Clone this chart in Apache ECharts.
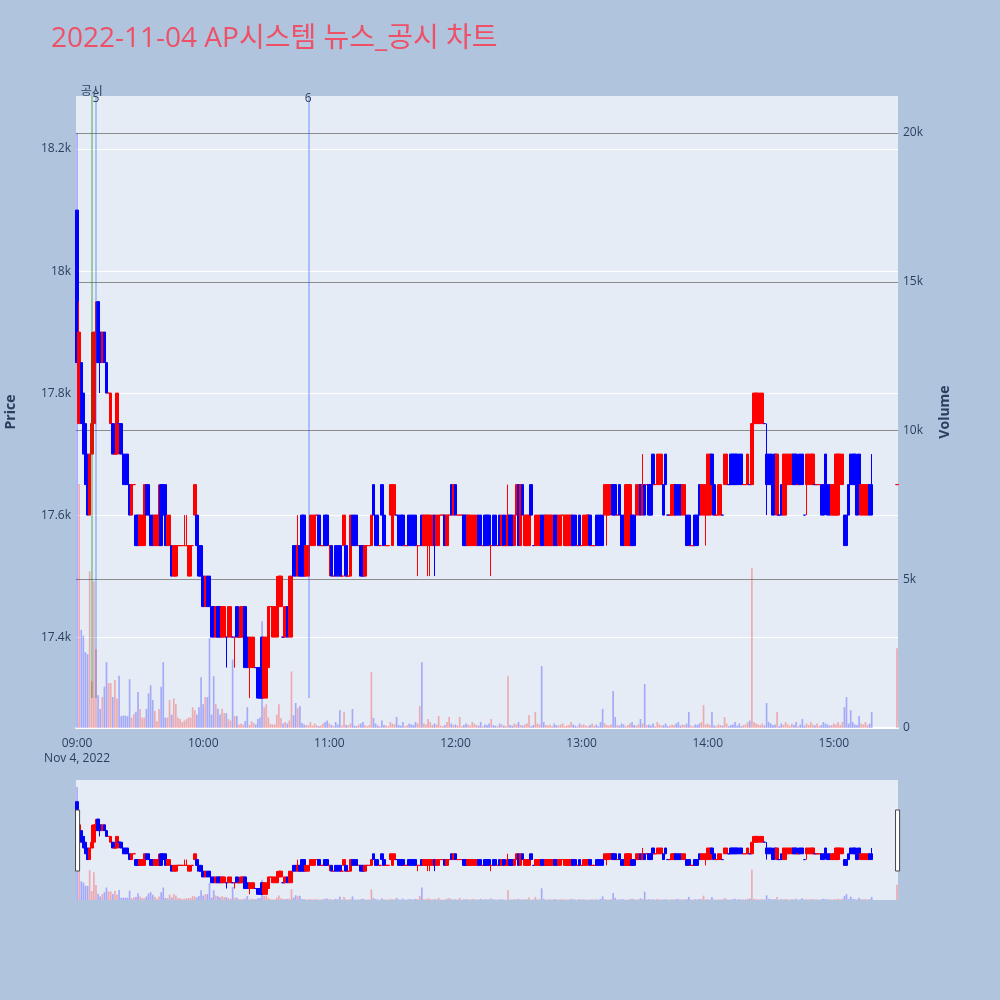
<!DOCTYPE html>
<html><head><meta charset="utf-8">
<script src="https://cdn.jsdelivr.net/npm/echarts@6/dist/echarts.min.js"></script>
<style>html,body{margin:0;padding:0;background:#b0c4de;}#c{width:1000px;height:1000px;}</style>
</head><body><div id="c"></div>
<script>
const chartTitle = '2022-11-04 AP시스템 뉴스_공시 차트';
const dateLabel = 'Nov 4, 2022';
// [open, close, low, high] per minute (low/high omitted when no wick); null = no trade
const h09 = [
[18100,17850],[17750,17900,17750,17950],[17850,17750],[17800,17700],[17750,17650],[17700,17600],[17600,17700],[17700,17750,17700,17900],[17750,17900],[17850,17900,17850,17950],
[17950,17850],[17900,17850,17800,17900],[17850,17900],[17900,17850],[17850,17800],[17800,17800],[17750,17800],[17750,17700],[17700,17700],[17700,17800],
[17750,17750],[17750,17700],[17700,17650],[17700,17650],[17700,17650],[17650,17600],[17600,17650],[17650,17650],[17600,17550],[17600,17550],
[17550,17600],[17550,17600],[17550,17650],[17650,17600],[17650,17600],[17600,17550],[17600,17550],[17550,17600],[17550,17600],[17550,17600,17550,17650],
[17650,17550],[17650,17600],[17650,17550],[17550,17600],[17550,17600],[17550,17500],[17500,17550],[17500,17550],[17550,17550],[17550,17550],
[17550,17550],[17550,17550,17550,17600],[17550,17550,17550,17600],[17500,17550],[17500,17550],[17550,17550],[17600,17650],[17600,17550],[17550,17500],[17550,17500]];
const h10 = [
[17500,17450],[17450,17500],[17500,17450],[17500,17450],[17450,17400],[17450,17400],[17400,17450],[17450,17400],[17450,17400],[17400,17450],
[17400,17450],[17400,17400,17350,17400],[17400,17450],[17400,17450],[17400,17400],[17400,17400,17350,17400],[17450,17400],[17400,17400],[17400,17450],[17400,17450],
[17450,17350],[17400,17350],[17350,17400,17300,17400],[17350,17400],[17350,17400],[17350,17350],[17350,17300],[17350,17300],[17400,17300],[17300,17400],
[17300,17400],[17350,17450],[17450,17450],[17400,17450],[17400,17450],[17400,17450,17400,17500],[17450,17500],[17450,17500],[17400,17400],[17400,17450],
[17450,17400],[17400,17500],[17400,17500],[17550,17500],[17550,17500],[17500,17550,17500,17600],[17550,17500],[17600,17500],[17600,17500],[17500,17550],
[17500,17550],[17550,17600],[17550,17600],[17550,17600],[17600,17600],[17600,17550],[17550,17550],[17550,17550],[17600,17550],[17600,17550]];
const h11 = [
[17550,17550,17500,17550],[17550,17500],[17500,17500],[17550,17500],[17550,17500],[17550,17500],[17500,17500],[17550,17600],[17550,17500],[17500,17500],
[17500,17600],[17600,17550],[17600,17550],[17600,17550],[17550,17550],[17550,17500],[17550,17500],[17500,17550],[17550,17550],[17550,17550],
[17550,17600],[17650,17600],[17600,17550],[17600,17550],[17550,17550],[17650,17600],[17600,17550],[17550,17550],[17550,17550],[17600,17650],
[17550,17650],[17600,17650],[17600,17600],[17600,17550],[17600,17550],[17600,17550],[17550,17550],[17550,17550],[17600,17550],[17600,17550],
[17600,17550],[17600,17550],[17550,17550,17500,17550],[17550,17550],[17600,17550],[17550,17600],[17550,17600],[17550,17600,17500,17600],[17550,17600,17500,17600],[17550,17600],
[17600,17550,17500,17600],[17550,17600],[17550,17600],[17600,17600],[17600,17600],[17600,17550],[17550,17600],[17600,17600],[17650,17600],[17600,17650]];
const h12 = [
[17650,17600],[17600,17600],[17600,17600],[17600,17600],[17600,17550],[17600,17550],[17550,17600],[17550,17600],[17550,17600],[17550,17600],
[17550,17600],[17600,17550],[17600,17550],[17550,17550],[17600,17550],[17600,17550],[17600,17550],[17550,17550,17500,17550],[17600,17550],[17600,17550],
[17550,17550],[17600,17550],[17550,17600],[17600,17550],[17550,17550],[17550,17600,17550,17650],[17600,17550],[17600,17550],[17550,17600],[17600,17650],
[17650,17550],[17550,17650],[17650,17600],[17550,17600],[17550,17600],[17550,17600],[17650,17600],[17550,17550],[17550,17600],[17550,17600],
[17550,17600],[17600,17550],[17600,17550],[17550,17600],[17550,17600],[17550,17600],[17550,17600],[17600,17550],[17600,17550],[17550,17600],
[17550,17600],[17600,17600],[17550,17600],[17550,17600],[17550,17600],[17550,17600],[17600,17550],[17600,17550],[17550,17550],[17600,17550]];
const h13 = [
[17550,17550],[17550,17600],[17550,17600],[17600,17600],[17600,17550],[17550,17550],[17550,17550],[17600,17550],[17600,17550],[17600,17550],
[17600,17550],[17600,17650],[17600,17650,17550,17650],[17600,17650],[17650,17650],[17650,17600],[17650,17600],[17600,17600],[17650,17600],[17600,17550],
[17600,17550],[17550,17650],[17550,17650],[17550,17650],[17600,17550],[17600,17550],[17600,17650],[17600,17650],[17650,17600],[17600,17650,17600,17700],
[17650,17600],[17650,17650],[17650,17600],[17650,17600],[17700,17650],[17650,17650],[17650,17700],[17650,17700],[17650,17700],[17650,17600],
[17700,17650],[17600,17600],[17600,17600],[17600,17650],[17600,17650],[17650,17600],[17650,17600],[17650,17600],[17600,17650],[17600,17650],
[17600,17550],[17600,17550],[17550,17550],[17550,17550],[17600,17550],[17600,17550],[17650,17600],[17600,17650],[17600,17650],[17600,17650,17550,17650]];
const h14 = [
[17600,17700],[17600,17700],[17700,17650],[17650,17600],[17600,17600],[17600,17650],[17600,17650],[17600,17600],[17650,17700],[17650,17700],
[17650,17650],[17700,17650],[17700,17650],[17700,17650],[17700,17650],[17700,17650],[17700,17650],[17650,17650],[17650,17650],[17650,17700],
[17650,17650],[17650,17750],[17750,17800],[17750,17800],[17750,17800],[17750,17800],[17750,17800],[17750,17750],[17700,17650,17600,17750],[17700,17650],
[17700,17650],[17650,17600],[17700,17650],[17600,17700],[17600,17600],[17650,17600],[17600,17700],[17600,17700],[17650,17700],[17650,17700],
[17650,17700],[17700,17650],[17700,17650],[17650,17650],[17700,17650],[17700,17650],[17600,17600],[17650,17700,17600,17700],[17650,17700],[17650,17700],
[17650,17700],[17650,17650],[17650,17650],[17650,17650],[17650,17600],[17650,17600],[17700,17650,17600,17700],[17650,17600],[17650,17600],[17600,17650]];
const h15 = [
[17600,17650],[17600,17700],[17600,17700],[17650,17700],[17650,17700],[17600,17550],[17600,17550],[17650,17600],[17700,17650],[17700,17650],
[17700,17650],[17650,17600],[17700,17650],[17600,17650],[17600,17650],[17600,17650],[17600,17650],[17650,17600],[17650,17600,17600,17700],null,
null,null,null,null,null,null,null,null,null,null,
[17650,17650]];
// volume per minute
const v09 = [20000,8200,3300,3100,2550,2480,5270,1570,4930,2650,
1100,640,1040,1390,2210,1510,1510,1040,1610,990,
1760,400,420,410,400,1640,350,470,550,1210,
640,350,350,640,1160,1440,940,570,230,640,
1390,2210,350,350,940,450,990,800,350,300,
200,250,300,350,350,700,600,450,700,1710];
const v10 = [800,1040,1040,3020,450,1740,800,650,450,650,
500,500,300,250,2300,400,400,120,150,120,
230,700,100,230,170,120,300,350,3590,700,
800,350,140,120,120,450,800,330,150,200,
150,250,1900,430,840,670,740,170,120,100,
90,200,80,150,100,60,80,150,200,250];
const v11 = [150,100,60,200,120,600,80,540,100,90,
150,640,80,60,120,150,200,90,60,100,
1880,340,150,80,60,250,100,80,60,200,
150,120,370,100,80,200,60,90,150,120,
100,200,150,740,2210,150,120,300,200,100,
150,120,400,80,60,100,200,370,150,100];
const v12 = [120,80,370,60,100,150,120,80,200,150,
100,80,200,60,120,100,150,300,100,80,
60,150,120,80,60,1740,100,80,150,120,
200,100,80,120,150,440,60,100,540,150,
120,2080,200,100,80,120,60,150,100,80,
120,150,60,80,100,200,120,80,60,150];
const v13 = [100,120,80,60,100,150,80,120,60,200,
640,150,100,80,120,1240,370,100,80,150,
120,60,100,150,200,100,80,120,300,150,
1480,100,120,80,150,60,200,120,80,100,
150,60,80,120,100,150,200,80,120,100,
150,540,80,60,120,100,150,200,770,120];
const v14 = [150,100,540,80,60,120,100,80,370,150,
60,100,120,200,80,150,60,100,120,200,
250,5370,200,150,120,100,150,80,840,200,
150,100,120,540,60,150,100,200,120,80,
150,100,200,60,120,300,80,150,100,200,
120,80,150,60,100,200,150,120,80,100];
const v15 = [150,120,200,100,200,700,1040,150,600,200,
120,100,400,150,120,200,100,150,540,null,
null,null,null,null,null,null,null,null,null,null,
2680];
const priceTicks = [17400, 17600, 17800, 18000, 18200];
const volumeTicks = [0, 5000, 10000, 15000, 20000];
const priceMin = 17251, priceMax = 18287, volumeMax = 21244;
const eventTimes = ['09:07', '09:09', '10:50'];
const eventLabels = ['공시', '5', '6'];
const eventLow = 17300;

const UP = '#ff0000', DOWN = '#0000ff';
const FONT = "'Open Sans', 'Noto Sans CJK KR', sans-serif";
const TXT = '#2a3f5f';

const ohlc = [].concat(h09, h10, h11, h12, h13, h14, h15);
const vols = [].concat(v09, v10, v11, v12, v13, v14, v15);
const cats = ohlc.map((_, i) => {
  const h = 9 + Math.floor(i / 60), m = i % 60;
  return String(h).padStart(2, '0') + ':' + String(m).padStart(2, '0');
});

let prevClose = null;
const signs = ohlc.map(e => {
  if (!e) return 0;
  let s;
  if (e[1] > e[0]) s = 1; else if (e[1] < e[0]) s = -1;
  else s = (prevClose == null || e[1] >= prevClose) ? 1 : -1;
  prevClose = e[1];
  return s;
});
const candleData = ohlc.map((e, i) => {
  if (!e) return ['-', '-', '-', '-'];
  const lo = e.length > 2 ? e[2] : Math.min(e[0], e[1]);
  const hi = e.length > 3 ? e[3] : Math.max(e[0], e[1]);
  const item = { value: [e[0], e[1], lo, hi] };
  if (e[0] === e[1]) {
    const c = signs[i] > 0 ? UP : DOWN;
    item.itemStyle = { color: c, color0: c, borderColor: c, borderColor0: c, borderColorDoji: c };
  }
  return item;
});
const volData = vols.map((v, i) => v == null ? '-' : {
  value: v,
  itemStyle: { color: signs[i] >= 0 ? 'rgba(255,0,0,0.28)' : 'rgba(0,0,255,0.28)' }
});

const eventColors = ['rgba(0,140,0,0.45)', 'rgba(40,80,255,0.4)', 'rgba(40,80,255,0.4)'];
const eventDist = [-2, -9, -9];
const markLineData = eventTimes.map((t, k) => [
  { coord: [t, eventLow], lineStyle: { color: eventColors[k], width: 1.5, type: 'solid' },
    label: { show: true, position: 'end', formatter: eventLabels[k], distance: eventDist[k], color: TXT, fontSize: 12, fontFamily: FONT } },
  { coord: [t, priceMax] }
]);

const candleStyle = { color: UP, color0: DOWN, borderColor: UP, borderColor0: DOWN, borderWidth: 1 };

const option = {
  backgroundColor: '#b0c4de',
  animation: false,
  title: { text: chartTitle, left: 51, top: 25, padding: 0, textStyle: { color: '#ee5068', fontSize: 28, fontWeight: 'normal', fontFamily: FONT } },
  grid: [
    { left: 76, right: 102, top: 96, bottom: 272, show: true, backgroundColor: '#e5ecf6', borderWidth: 0, containLabel: false, outerBoundsMode: 'none' },
    { left: 76, right: 102, top: 780, height: 120, show: true, backgroundColor: '#e5ecf6', borderWidth: 0, containLabel: false, outerBoundsMode: 'none' }
  ],
  xAxis: [
    { type: 'category', data: cats, gridIndex: 0, boundaryGap: true,
      axisLine: { show: true, lineStyle: { color: '#ffffff', width: 2 } },
      axisTick: { show: false }, splitLine: { show: false },
      axisLabel: { color: TXT, fontSize: 12, fontFamily: FONT, margin: 8, lineHeight: 15,
        interval: (i) => i % 60 === 0,
        formatter: (v, i) => i === 0 ? v + '\n' + dateLabel : v } },
    { type: 'category', data: cats, gridIndex: 1, boundaryGap: true, show: false }
  ],
  yAxis: [
    { type: 'value', gridIndex: 0, position: 'left', min: priceMin, max: priceMax, scale: true,
      name: 'Price', nameLocation: 'middle', nameGap: 58, nameRotate: 90,
      nameTextStyle: { color: TXT, fontSize: 14, fontWeight: 'bold', fontFamily: FONT },
      axisLine: { show: false }, axisTick: { show: false, customValues: priceTicks },
      axisLabel: { customValues: priceTicks, color: TXT, fontSize: 12, fontFamily: FONT, margin: 5,
        formatter: (v) => (v / 1000) + 'k' },
      splitLine: { show: true, lineStyle: { color: '#ffffff', width: 1 } } },
    { type: 'value', gridIndex: 0, position: 'right', min: 0, max: volumeMax,
      name: 'Volume', nameLocation: 'middle', nameGap: 40, nameRotate: 90,
      nameTextStyle: { color: TXT, fontSize: 14, fontWeight: 'bold', fontFamily: FONT },
      axisLine: { show: false }, axisTick: { show: false, customValues: volumeTicks },
      axisLabel: { customValues: volumeTicks, color: TXT, fontSize: 12, fontFamily: FONT, margin: 5,
        formatter: (v) => v === 0 ? '0' : (v / 1000) + 'k' },
      splitLine: { show: true, showMinLine: false, lineStyle: { color: '#8c8c8c', width: 1 } } },
    { type: 'value', gridIndex: 1, min: priceMin, max: priceMax, show: false, splitLine: { show: false } },
    { type: 'value', gridIndex: 1, min: 0, max: volumeMax, show: false, splitLine: { show: false } }
  ],
  dataZoom: [{
    type: 'slider', xAxisIndex: [0, 1], filterMode: 'none', start: 0, end: 100,
    left: 76, right: 102, top: 810, height: 61,
    showDataShadow: false, showDetail: false, brushSelect: false,
    backgroundColor: 'rgba(0,0,0,0)', fillerColor: 'rgba(0,0,0,0)', borderColor: 'rgba(0,0,0,0)',
    handleIcon: 'path://M0,0h4v60h-4z', handleSize: '100%',
    handleStyle: { color: '#ffffff', borderColor: '#444444', borderWidth: 1 },
    moveHandleSize: 0, moveHandleStyle: { opacity: 0 },
    emphasis: { handleStyle: { color: '#ffffff', borderColor: '#444444' }, moveHandleStyle: { opacity: 0 } }
  }],
  series: [
    { type: 'bar', name: 'Volume', xAxisIndex: 0, yAxisIndex: 1, data: volData, barWidth: '80%', z: 2, silent: true },
    { type: 'candlestick', name: 'Price', xAxisIndex: 0, yAxisIndex: 0, data: candleData, barWidth: 3, z: 3,
      itemStyle: candleStyle, silent: true,
      markLine: { symbol: 'none', silent: true, animation: false, data: markLineData } },
    { type: 'bar', xAxisIndex: 1, yAxisIndex: 3, data: volData, barWidth: '80%', z: 2, silent: true },
    { type: 'candlestick', xAxisIndex: 1, yAxisIndex: 2, data: candleData, barWidth: 3, z: 3, itemStyle: candleStyle, silent: true }
  ]
};
const chart = echarts.init(document.getElementById('c'), null, { renderer: 'canvas' });
chart.setOption(option);
</script></body></html>
